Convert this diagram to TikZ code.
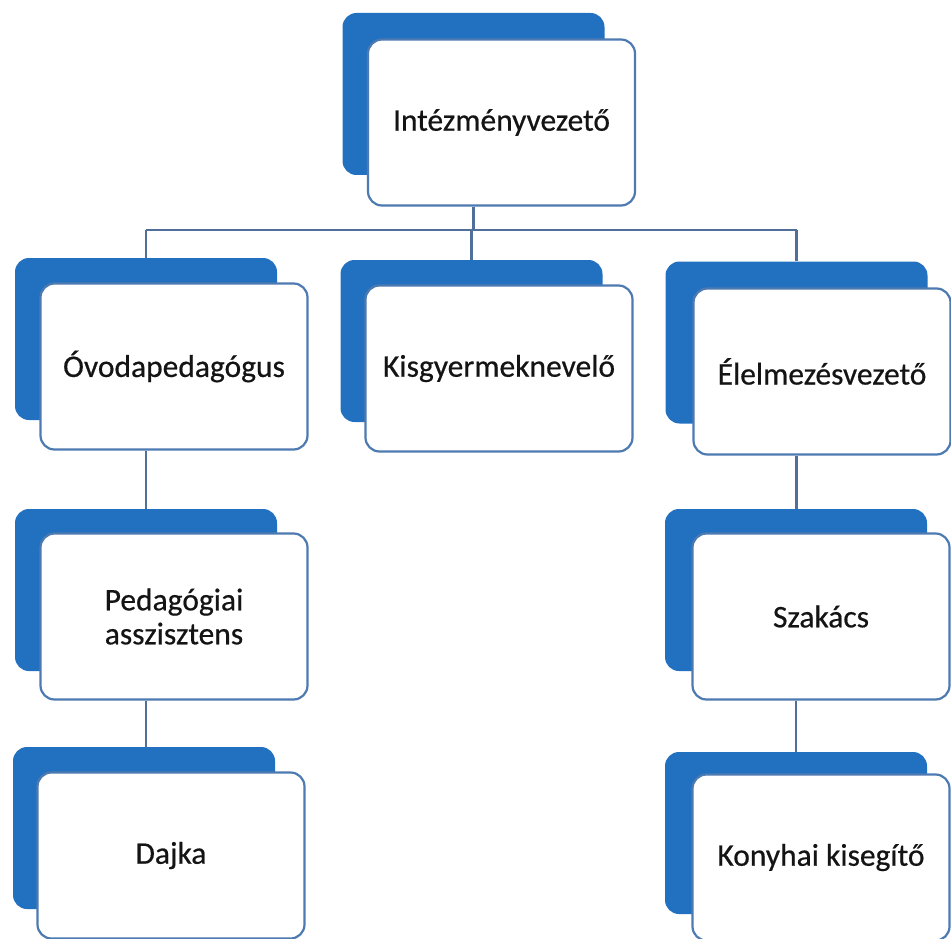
\documentclass[tikz,border=0pt]{standalone}
\usepackage{fontspec}
\setmainfont{Carlito}
\newfontfamily\lblfont{Carlito}[FakeBold=0.5]
\definecolor{backblue}{RGB}{34,112,192}
\definecolor{edgeblue}{RGB}{78,122,178}
\definecolor{lineblue}{RGB}{80,112,155}
\definecolor{txt}{RGB}{20,20,20}
\begin{document}
\begin{tikzpicture}[x=1pt,y=-1pt,
  backbox/.style={draw=none,fill=backblue,rounded corners=14pt,minimum width=262pt,minimum height=162pt,inner sep=0pt},
  frontbox/.style={draw=edgeblue,line width=2.2pt,fill=white,rounded corners=14pt,minimum width=267pt,minimum height=166pt,inner sep=0pt,align=center,text=txt,font=\lblfont\fontsize{31.5}{34}\selectfont},
  narrowbox/.style={frontbox,minimum width=257pt},
  link/.style={draw=lineblue,line width=2.3pt}]
\useasboundingbox (0,0) rectangle (951,939);
\begin{scope}
\clip (0,0) rectangle (951,939);
% top
\node[backbox] (b0) at (473.5,94) {};
\node[frontbox] (f0) at (501.5,122.5) {Intézményvezető};
% level 2
\node[backbox] (b1) at (146,339) {};
\node[frontbox] (f1) at (174,366.5) {Óvodapedagógus};
\node[backbox] (b2) at (471.5,341) {};
\node[frontbox] (f2) at (499,368.5) {Kisgyermeknevelő};
\node[backbox] (b3) at (796.5,342.5) {};
\node[narrowbox] (f3) at (822,371.5) {Élelmezésvezető};
% level 3
\node[backbox] (b4) at (146,590) {};
\node[frontbox] (f4) at (174,616.5) {Pedagógiai\\asszisztens};
\node[backbox] (b5) at (796,590) {};
\node[narrowbox] (f5) at (821,616.5) {Szakács};
% level 4
\node[backbox] (b6) at (144,828) {};
\node[frontbox] (f6) at (171,855.5) {Dajka};
\node[backbox] (b7) at (796,833) {};
\node[narrowbox] (f7) at (821,857.5) {Konyhai kisegítő};
\coordinate (bus) at (0,230);
\coordinate (busL) at (b1.center |- bus);
\coordinate (busR) at (b3.center |- bus);
\end{scope}
% connectors
\draw[link] (b0.center |- f0.south) -- (b0.center |- bus);
\draw[link] (busL) -- (busR);
\draw[link] (busL) -- (b1.north);
\draw[link] (b2.center |- bus) -- (b2.north);
\draw[link] (busR) -- (b3.north);
\draw[link] (b1.center |- f1.south) -- (b1.center |- b4.north);
\draw[link] (b4.center |- f4.south) -- (b4.center |- b6.north);
\draw[link] (b3.center |- f3.south) -- (b3.center |- b5.north);
\draw[link] (b5.center |- f5.south) -- (b5.center |- b7.north);
\end{tikzpicture}
\end{document}
